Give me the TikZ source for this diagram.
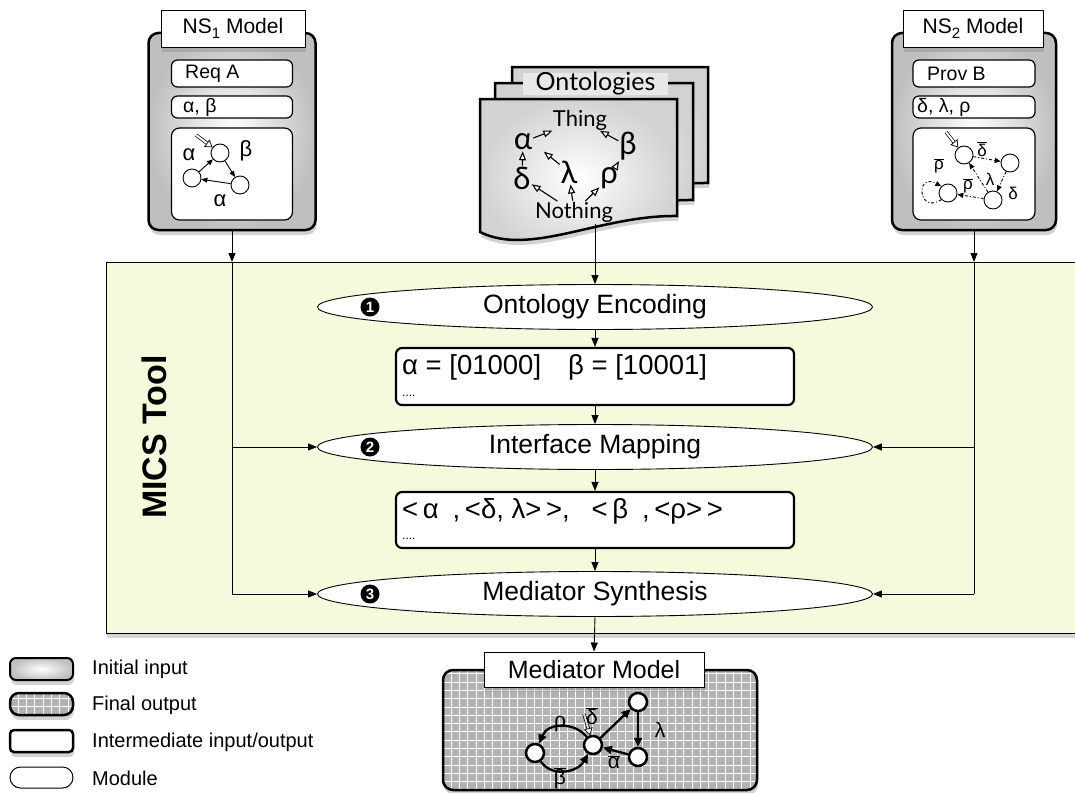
\documentclass[tikz,border=0pt]{standalone}
\usepackage{fontspec}
\setmainfont{Liberation Sans}
\newfontfamily\gill{Lato}
\usetikzlibrary{shapes.geometric,arrows.meta,shadows}
\newcommand\fsz[1]{\fontsize{#1}{#1}\selectfont}
\definecolor{panelc}{RGB}{244,250,220}
\tikzset{
 arr/.style={line width=0.9pt,-{Triangle[length=9pt,width=7pt]}},
 shad/.style={drop shadow={shadow xshift=1pt,shadow yshift=-5pt,opacity=0.35}},
 inbox/.style={draw,line width=2.5pt,rounded corners=10pt,shading=radial,inner color=white,outer color=gray!50,inner sep=0},
 titlebox/.style={draw,fill=white,line width=0.8pt,inner sep=0},
 slot/.style={draw,fill=white,line width=1.2pt,rounded corners=6pt,inner sep=0},
 module/.style={ellipse,draw,fill=white,line width=0.9pt,inner sep=0,minimum width=555pt,minimum height=45pt,font=\fsz{26.5}},
 iobox/.style={draw,fill=white,line width=2.2pt,rounded corners=6pt,inner sep=0,minimum width=398pt},
 num/.style={circle,fill=black,text=white,font=\bfseries\fsz{15},inner sep=0,minimum size=19pt},
 st/.style={circle,draw,fill=white,line width=0.9pt,minimum size=18pt,inner sep=0},
 ta/.style={line width=0.9pt,-{Triangle[length=6pt,width=5pt]}},
 dd/.style={ta,dash pattern=on 3pt off 2pt on 1pt off 2pt},
 lab/.style={font=\fsz{22},inner sep=1pt},
 slab/.style={font=\fsz{17},inner sep=1pt},
 txt/.style={inner sep=0},
 ontw/.style={font=\gill\fsz{22},inner sep=0},
 ontg/.style={font=\gill\fsz{31},inner sep=0},
 oa/.style={line width=1.1pt,-{Triangle[length=9pt,width=7pt,fill=white]},shorten >=1pt,shorten <=1pt},
 mst/.style={circle,draw,fill=white,line width=2.5pt,minimum size=18pt,inner sep=0},
 ma/.style={line width=2.3pt,-{Triangle[length=9pt,width=8pt]}},
 mlab/.style={font=\fsz{21},inner sep=1pt},
 startarr/.style={double=white,double distance=2pt,line width=0.7pt,-{Triangle[open,fill=white,length=7pt,width=9pt]}},
 doc/.style={draw,line width=2.5pt,shading=radial,inner color=white,outer color=gray!35,drop shadow={shadow xshift=1pt,shadow yshift=-5pt,opacity=0.35}},
 gridfill/.style={fill=gray!60,path picture={
   \foreach \i in {0,...,40}{
     \draw[white,line width=1pt] ([xshift=\i*8.3pt]path picture bounding box.south west) -- ([xshift=\i*8.3pt]path picture bounding box.north west);
     \draw[white,line width=1pt] ([yshift=\i*8.3pt]path picture bounding box.south west) -- ([yshift=\i*8.3pt]path picture bounding box.south east);
   }}}
}
\newcommand\ontpage[5]{\path[doc] (#1,#2) -- (#3,#2) -- (#3,#4) .. controls (#3-77,#4-1) and (#1+50,#5+25) .. (#1,#5) -- cycle;}
\begin{document}
\begin{tikzpicture}[x=1pt,y=-1pt]
\useasboundingbox (0,0) rectangle (1075,792);

% MICS panel
\node[draw,fill=panelc,line width=0.8pt,minimum width=985pt,minimum height=371pt,inner sep=0,shad] (panel) at (598.5,447.5) {};
\node[rotate=90,font=\bfseries\fsz{34},inner sep=0] (mics) at (154,437) {MICS Tool};

% NS1 model
\node[inbox,shad,minimum width=167pt,minimum height=197pt] (ns1) at (232,131.5) {};
\node[titlebox,shad,minimum width=144pt,minimum height=37pt,font=\fsz{21}] (ns1t) at (233,28.5) {NS\raisebox{-5pt}{\fsz{15}1} Model};
\node[slot,minimum width=121pt,minimum height=27pt] (reqa) at (232,73.5) {};
\node[txt,anchor=west,font=\fsz{19.5}] (reqat) at (185,73.5) {Req A};
\node[slot,minimum width=121pt,minimum height=22pt] (ab) at (232,107) {};
\node[txt,anchor=west,font=\fsz{19.5}] (abt) at (183,107) {α, β};
\node[slot,rounded corners=8pt,minimum width=121pt,minimum height=92pt] (dg1) at (232,174) {};
\node[st] (c1) at (220,153) {};
\node[st] (c2) at (192,178) {};
\node[st] (c3) at (240,185) {};
\coordinate (s1) at (196,135);
\draw[startarr] (s1) -- (c1);
\draw[ta] (c2) -- (c1);
\draw[ta] (c1) -- (c3);
\draw[ta] (c3) -- (c2);
\node[lab] (l1a) at (189,155) {α};
\node[lab] (l1b) at (246,151) {β};
\node[lab] (l1c) at (220,201) {α};

% NS2 model
\node[inbox,shad,minimum width=164pt,minimum height=197pt] (ns2) at (974,131.5) {};
\node[titlebox,shad,minimum width=140pt,minimum height=37pt,font=\fsz{21}] (ns2t) at (973,28.5) {NS\raisebox{-5pt}{\fsz{15}2} Model};
\node[slot,minimum width=122pt,minimum height=27pt] (provb) at (974,73.5) {};
\node[txt,anchor=west,font=\fsz{19.5}] (provbt) at (927,73.5) {Prov B};
\node[slot,minimum width=122pt,minimum height=22pt] (dlr) at (974,107) {};
\node[txt,anchor=west,font=\fsz{19.5}] (dlrt) at (917,107) {δ, λ, ρ};
\node[slot,rounded corners=8pt,minimum width=122pt,minimum height=92pt] (dg2) at (974,174) {};
\node[st] (d1) at (964,155) {};
\node[st] (d2) at (1010,163) {};
\node[st] (d3) at (948,193) {};
\node[st] (d4) at (993,200) {};
\coordinate (s2) at (946,132);
\draw[startarr] (s2) -- (d1);
\draw[dd] (d1) -- (d2);
\draw[dd] (d2) -- (d4);
\draw[dd] (d4) -- (d1);
\draw[dd] (d4) -- (d3);
\draw[dd] (d3.south west) .. controls (918,215) and (915,172) .. (d3.north west);
\node[slab] (l2a) at (982,149) {$\overline{\hbox{δ}}$};
\node[slab] (l2b) at (990,179) {λ};
\node[slab] (l2c) at (1013,193) {δ};
\node[slab] (l2d) at (968,186) {$\overline{\hbox{ρ}}$};
\node[slab] (l2e) at (939,166) {$\overline{\hbox{ρ}}$};

% Ontologies
\ontpage{512}{67}{708}{183}{199}
\ontpage{495}{83}{693}{200}{216}
\ontpage{480}{99}{677}{216}{232}
\node[fill=gray!18,minimum width=145pt,minimum height=22pt,inner sep=0,font=\gill\fsz{25}] (ontt) at (595.5,84) {Ontologies};
\node[ontw] (th) at (580,120) {Thing};
\node[ontg] (oa) at (523,142) {α};
\node[ontg] (ob) at (628,146) {β};
\node[ontg] (od) at (522,178) {δ};
\node[ontg] (ol) at (569,172) {λ};
\node[ontg] (orho) at (609,178) {ρ};
\node[ontw] (no) at (574,212) {Nothing};
\coordinate (lup) at (543,151);
\draw[oa] (oa) -- (th);
\draw[oa] (ob) -- (th);
\draw[oa] (od) -- (oa);
\draw[oa] (no) -- (od);
\draw[oa] (no) -- (ol);
\draw[oa] (ol) -- (lup);
\draw[oa] (no) -- (orho);
\draw[oa] (orho) -- (ob);
\coordinate (ontb) at (595,224);

% Modules and intermediate boxes
\node[module] (e1) at (595,307) {Ontology Encoding};
\node[module] (e2) at (595,447) {Interface Mapping};
\node[module] (e3) at (595,594) {Mediator Synthesis};
\node[num] (n1) at (370,307) {1};
\node[num] (n2) at (370,447) {2};
\node[num] (n3) at (370,594) {3};
\node[iobox,minimum height=57pt] (b1) at (595,376.5) {};
\node[txt,anchor=west,font=\fsz{27.5}] (b1t) at (402,367) {α = [01000]\hspace{27pt}β = [10001]};
\node[txt,anchor=west,font=\fsz{12}] (b1d) at (402,396) {....};
\node[iobox,minimum height=56pt] (b2) at (595,520) {};
\node[txt,anchor=west,font=\fsz{27.5}] (b2t) at (402,511) {<\,α\hspace{14pt},\,<δ, λ>\,>,\hspace{22pt}<\,β\hspace{14pt},\,<ρ>\,>};
\node[txt,anchor=west,font=\fsz{12}] (b2d) at (402,539) {....};

% Mediator model
\node[gridfill,draw,line width=2.5pt,rounded corners=10pt,minimum width=314pt,minimum height=120pt,inner sep=0,shad] (med) at (600,730) {};
\node[titlebox,line width=1pt,minimum width=220pt,minimum height=35pt,font=\fsz{25},shad] (medt) at (594,669.5) {Mediator Model};
\node[mst] (m1) at (535,753) {};
\node[mst] (m2) at (593,745) {};
\node[mst] (m3) at (638,702) {};
\node[mst] (m4) at (638,757) {};
\draw[ma] (m4) -- (m2);
\draw[ma] (m1) .. controls (552,778) and (578,772) .. (m2);
\draw[ma] (m2) .. controls (575,722) and (548,722) .. (m1);
\draw[ma] (m2) -- (m3);
\draw[ma] (m3) -- (m4);
\coordinate (s3) at (584,714);
\draw[startarr,double=gray!30] (s3) -- (m2);
\node[mlab] (ml1) at (560,724) {ρ};
\node[mlab] (ml2) at (560,778) {$\overline{\hbox{β}}$};
\node[mlab] (ml3) at (592,716) {$\overline{\hbox{δ}}$};
\node[mlab] (ml4) at (660,730) {λ};
\node[mlab] (ml5) at (614,762) {$\overline{\hbox{α}}$};

% Connectors
\coordinate (l0) at (232,262);
\coordinate (l1) at (232,447);
\coordinate (l2) at (232,594);
\coordinate (r0) at (974,262);
\coordinate (r1) at (974,447);
\coordinate (r2) at (974,594);
\draw[arr] (ns1.south) -- (l0);
\draw[line width=0.9pt] (l0) -- (l2);
\draw[arr] (l1) -- (e2.west);
\draw[arr] (l2) -- (e3.west);
\draw[arr] (ns2.south) -- (r0);
\draw[line width=0.9pt] (r0) -- (r2);
\draw[arr] (r1) -- (e2.east);
\draw[arr] (r2) -- (e3.east);
\draw[arr] (ontb) -- (e1.north);
\draw[arr] (e1.south) -- (b1.north);
\draw[arr] (b1.south) -- (e2.north);
\draw[arr] (e2.south) -- (b2.north);
\draw[arr] (b2.south) -- (e3.north);
\draw[arr] (e3.south) -- (medt.north);

% Legend
\node[inbox,rounded corners=6pt,line width=2pt,minimum width=63pt,minimum height=22pt,shad] (leg1) at (41.5,669) {};
\node[gridfill,draw,line width=2.5pt,rounded corners=9pt,minimum width=63pt,minimum height=22pt,inner sep=0,shad] (leg2) at (41.5,704) {};
\node[draw,fill=white,line width=2.5pt,rounded corners=4pt,minimum width=63pt,minimum height=22pt,inner sep=0,shad] (leg3) at (41.5,741) {};
\node[draw,fill=white,line width=1pt,rounded corners=10.5pt,minimum width=63pt,minimum height=21pt,inner sep=0] (leg4) at (41.5,777.5) {};
\node[txt,anchor=west,font=\fsz{20}] (lt1) at (92,669) {Initial input};
\node[txt,anchor=west,font=\fsz{20}] (lt2) at (92,705) {Final output};
\node[txt,anchor=west,font=\fsz{20}] (lt3) at (92,742) {Intermediate input/output};
\node[txt,anchor=west,font=\fsz{20}] (lt4) at (92,778) {Module};
\end{tikzpicture}
\end{document}
